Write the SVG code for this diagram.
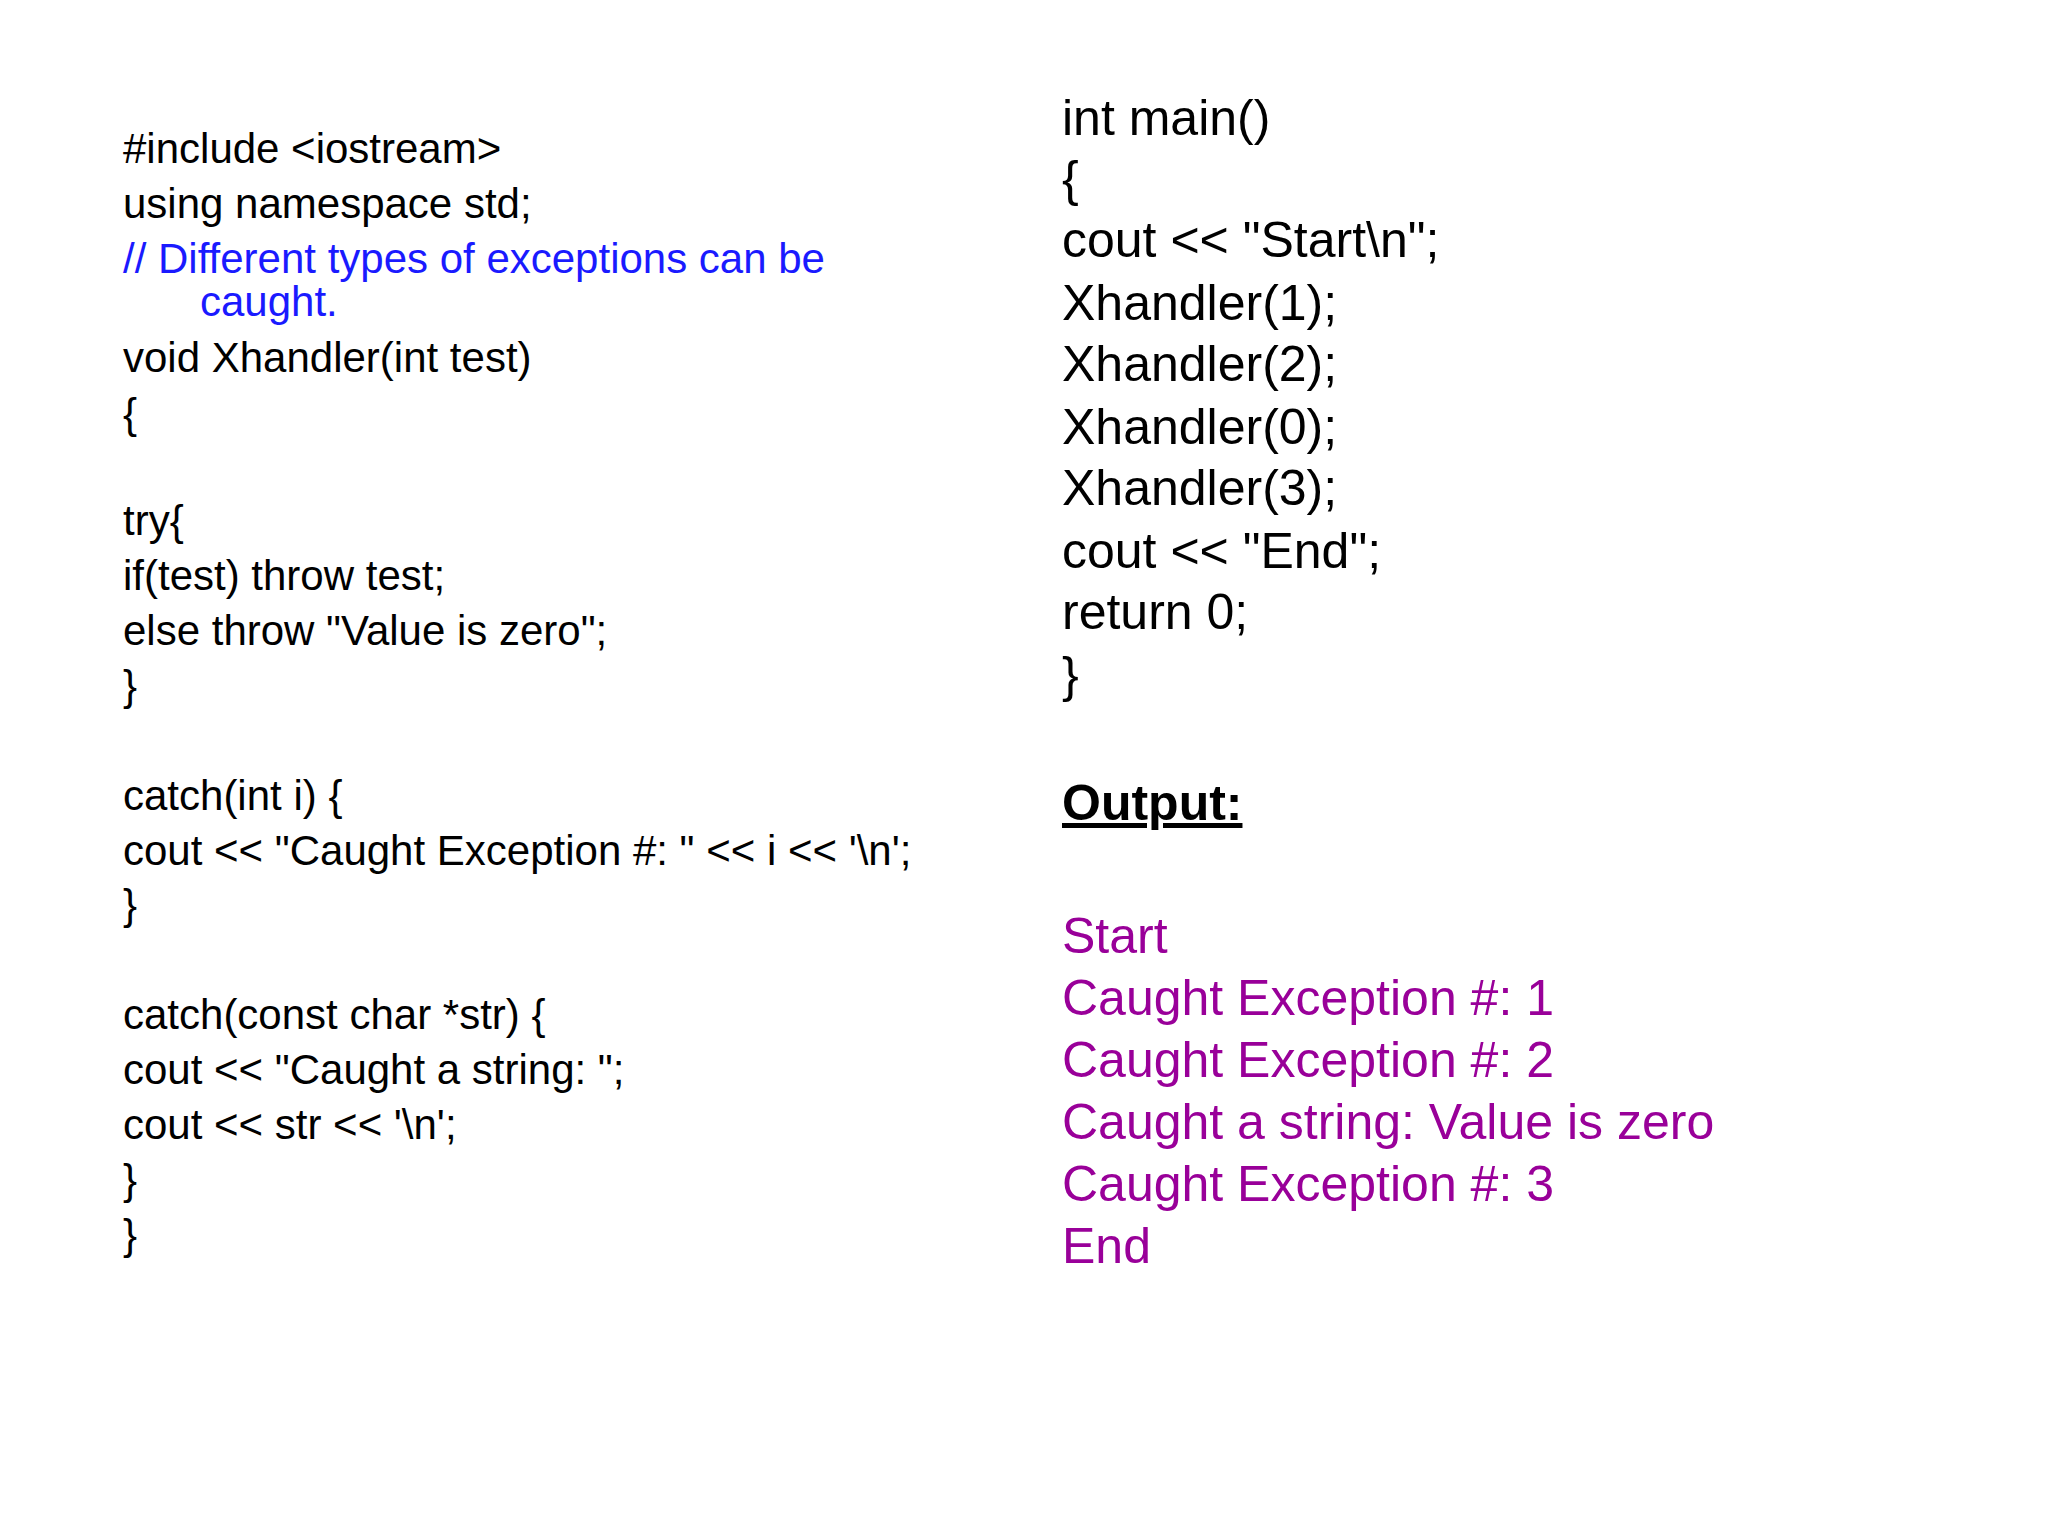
<svg xmlns="http://www.w3.org/2000/svg" width="2048" height="1536" viewBox="0 0 2048 1536">
<style>
text{font-family:"Liberation Sans",Arial,sans-serif;fill:#000}
.l{font-size:42px}
.r{font-size:50px}
.b{fill:#1a1aff}
.p{fill:#990099}
</style>
<rect width="2048" height="1536" fill="#fff"/>
<g id="left" class="l">
<text class="l" x="123" y="163">#include &lt;iostream&gt;</text>
<text class="l" x="123" y="218">using namespace std;</text>
<text class="l b" x="123" y="273">// Different types of exceptions can be</text>
<text class="l b" x="200" y="316">caught.</text>
<text class="l" x="123" y="372">void Xhandler(int test)</text>
<text class="l" x="123" y="428">{</text>
<text class="l" x="123" y="535">try{</text>
<text class="l" x="123" y="590">if(test) throw test;</text>
<text class="l" x="123" y="645">else throw "Value is zero";</text>
<text class="l" x="123" y="700">}</text>
<text class="l" x="123" y="810">catch(int i) {</text>
<text class="l" x="123" y="865">cout &lt;&lt; "Caught Exception #: " &lt;&lt; i &lt;&lt; '\n';</text>
<text class="l" x="123" y="919">}</text>
<text class="l" x="123" y="1029">catch(const char *str) {</text>
<text class="l" x="123" y="1084">cout &lt;&lt; "Caught a string: ";</text>
<text class="l" x="123" y="1139">cout &lt;&lt; str &lt;&lt; '\n';</text>
<text class="l" x="123" y="1194">}</text>
<text class="l" x="123" y="1249">}</text>
</g>
<g id="right">
<text class="r" x="1062" y="135">int main()</text>
<text class="r" x="1062" y="196">{</text>
<text class="r" x="1062" y="257">cout &lt;&lt; "Start\n";</text>
<text class="r" x="1062" y="320">Xhandler(1);</text>
<text class="r" x="1062" y="381">Xhandler(2);</text>
<text class="r" x="1062" y="444">Xhandler(0);</text>
<text class="r" x="1062" y="505">Xhandler(3);</text>
<text class="r" x="1062" y="568">cout &lt;&lt; "End";</text>
<text class="r" x="1062" y="629">return 0;</text>
<text class="r" x="1062" y="692">}</text>
</g>
<g id="output">
<text class="r" x="1062" y="820" font-weight="bold" text-decoration="underline">Output:</text>
<text class="r p" x="1062" y="953">Start</text>
<text class="r p" x="1062" y="1015">Caught Exception #: 1</text>
<text class="r p" x="1062" y="1077">Caught Exception #: 2</text>
<text class="r p" x="1062" y="1139">Caught a string: Value is zero</text>
<text class="r p" x="1062" y="1201">Caught Exception #: 3</text>
<text class="r p" x="1062" y="1263">End</text>
</g>
</svg>
